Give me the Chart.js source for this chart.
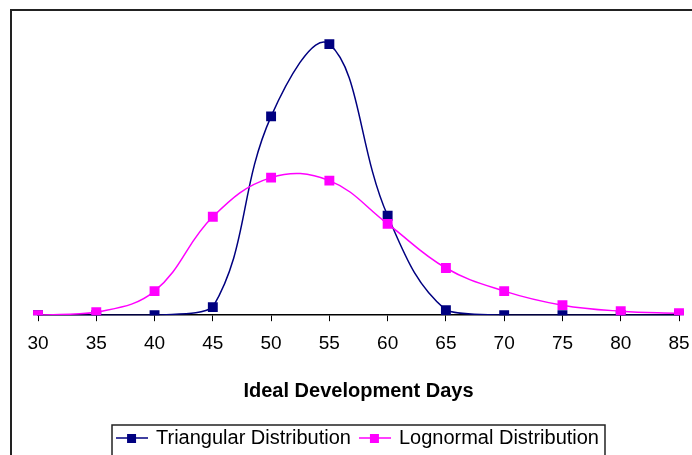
<!DOCTYPE html>
<html>
<head>
<meta charset="utf-8">
<script src="https://cdn.jsdelivr.net/npm/chart.js@4"></script>
<style>
  html, body { margin: 0; padding: 0; background: #fff; overflow: hidden; }
  #wrap { position: relative; width: 692px; height: 455px; overflow: hidden; }
  canvas { display: block; }
</style>
</head>
<body>
<div id="wrap"><canvas id="chartDist" width="692" height="458"></canvas></div>
<script>
// ideal development days (x axis)
const days = ['30', '35', '40', '45', '50', '55', '60', '65', '70', '75', '80', '85'];
// probability per 5-day bucket
const triangular = [0, 0, 0, 0.008, 0.198, 0.270, 0.099, 0.005, 0, 0, 0, 0];
const lognormal = [0, 0.003, 0.024, 0.098, 0.137, 0.134, 0.091, 0.047, 0.024, 0.010, 0.004, 0.002];

const NAVY = '#000080';
const PINK = '#FF00FF';
const FONT = 'Arial, "Liberation Sans"';

// little "line + square" marker for the legend
function legendMarker(color) {
    const c = document.createElement('canvas');
    c.width = 32;
    c.height = 10;
    const g = c.getContext('2d');
    g.strokeStyle = color;
    g.lineWidth = 1.5;
    g.beginPath();
    g.moveTo(0, 5);
    g.lineTo(32, 5);
    g.stroke();
    g.fillStyle = color;
    g.fillRect(11, 1, 9, 9);
    return c;
}

// outer chart border + box around the legend
const framePlugin = {
    id: 'frame',
    beforeDraw(chart) {
        const ctx = chart.ctx;
        ctx.save();
        ctx.strokeStyle = '#222';
        ctx.lineWidth = 2;
        ctx.strokeRect(11, 10, 720, 500);
        ctx.restore();
    },
    afterDraw(chart) {
        const lg = chart.legend;
        if (!lg || !lg.legendHitBoxes || !lg.legendHitBoxes.length) return;
        let left = Infinity, right = -Infinity, top = Infinity;
        lg.legendHitBoxes.forEach(b => {
            left = Math.min(left, b.left);
            right = Math.max(right, b.left + b.width);
            top = Math.min(top, b.top);
        });
        const ctx = chart.ctx;
        ctx.save();
        ctx.strokeStyle = '#222';
        ctx.lineWidth = 1.5;
        ctx.strokeRect(left - 6, top - 3, right - left + 12, 60);
        ctx.restore();
    }
};

const ctx = document.getElementById('chartDist').getContext('2d');
new Chart(ctx, {
    type: 'line',
    data: {
        labels: days,
        datasets: [{
            label: 'Triangular Distribution',
            data: triangular,
            borderColor: NAVY,
            backgroundColor: NAVY,
            borderWidth: 1.5,
            pointStyle: 'rect',
            pointRadius: 7,
            pointBorderWidth: 0,
            tension: 0.4,
            order: 2
        }, {
            label: 'Lognormal Distribution',
            data: lognormal,
            borderColor: PINK,
            backgroundColor: PINK,
            borderWidth: 1.5,
            pointStyle: 'rect',
            pointRadius: 7,
            pointBorderWidth: 0,
            tension: 0.4,
            order: 1
        }]
    },
    options: {
        responsive: false,
        animation: false,
        layout: {
            padding: { left: 38, right: 13, top: 14, bottom: 0 }
        },
        plugins: {
            tooltip: { enabled: false },
            legend: {
                position: 'bottom',
                labels: {
                    usePointStyle: true,
                    pointStyleWidth: 28,
                    boxHeight: 10,
                    padding: 10,
                    color: '#000',
                    font: { family: FONT, size: 20 },
                    generateLabels(chart) {
                        return chart.data.datasets.map((ds, i) => ({
                            text: ds.label,
                            pointStyle: legendMarker(ds.borderColor),
                            fillStyle: ds.borderColor,
                            strokeStyle: ds.borderColor,
                            lineWidth: 0,
                            fontColor: '#000',
                            datasetIndex: i,
                            hidden: false
                        }));
                    }
                }
            }
        },
        scales: {
            x: {
                offset: false,
                // first and last tick labels may hang over the plot edge
                afterFit(scale) {
                    scale.paddingLeft = 0;
                    scale.paddingRight = 0;
                },
                grid: {
                    display: true,
                    drawOnChartArea: false,
                    drawTicks: true,
                    tickLength: 6,
                    color: '#000'
                },
                border: { display: true, color: '#000', width: 1.5 },
                ticks: {
                    color: '#000',
                    padding: 11,
                    maxRotation: 0,
                    autoSkip: false,
                    font: { family: FONT, size: 19 }
                },
                title: {
                    display: true,
                    text: 'Ideal Development Days',
                    color: '#000',
                    font: { family: FONT, size: 20, weight: 'bold' },
                    padding: { top: 13, bottom: 15 }
                }
            },
            y: {
                display: false,
                min: 0,
                max: 0.3
            }
        }
    },
    plugins: [framePlugin]
});
</script>
</body>
</html>
